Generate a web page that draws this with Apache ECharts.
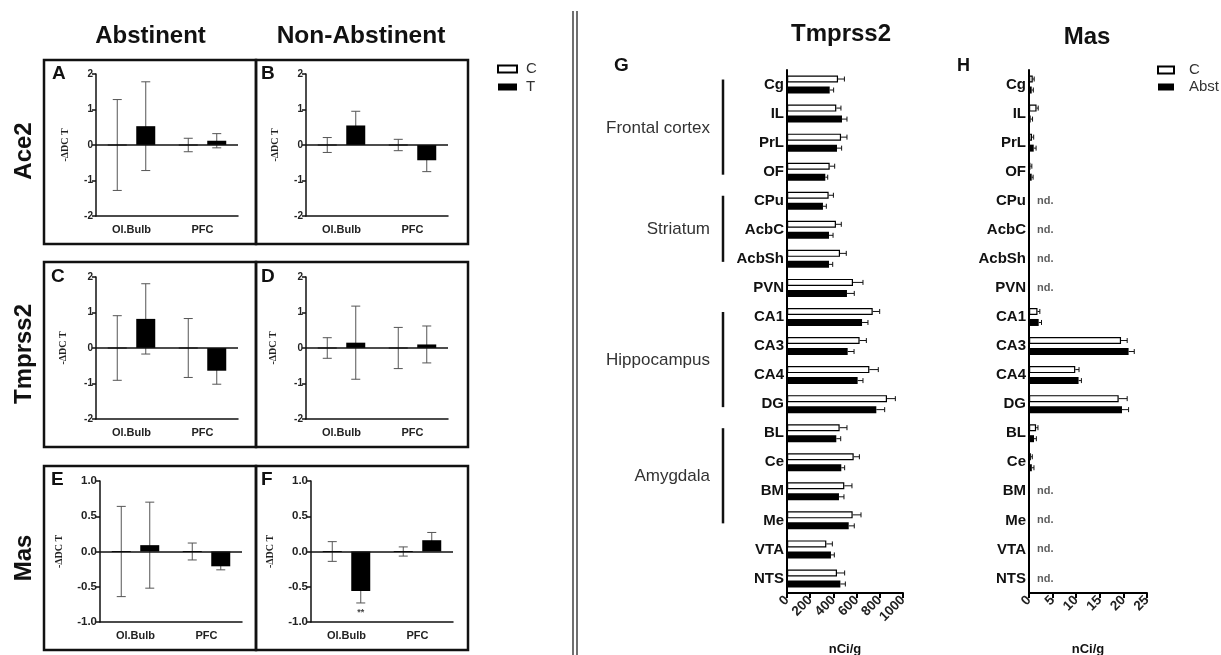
<!DOCTYPE html>
<html><head><meta charset="utf-8">
<script src="https://cdn.jsdelivr.net/npm/echarts@6/dist/echarts.min.js"></script>
<style>html,body{margin:0;padding:0;background:#fff}#c{width:1221px;height:655px}</style>
</head><body><div id="c"></div>
<script>
// ---------- data: panels A-F (-ΔΔCt, mean and SEM) ----------
const regions = ['Ol.Bulb', 'PFC'];
const ace2AbstC = [0, 0],      ace2AbstCErr = [1.28, 0.19];
const ace2AbstT = [0.53, 0.12], ace2AbstTErr = [1.25, 0.20];
const ace2NonC = [0, 0],       ace2NonCErr = [0.21, 0.16];
const ace2NonT = [0.55, -0.43], ace2NonTErr = [0.40, 0.32];
const tmpAbstC = [0, 0],       tmpAbstCErr = [0.91, 0.83];
const tmpAbstT = [0.82, -0.64], tmpAbstTErr = [0.99, 0.38];
const tmpNonC = [0, 0],        tmpNonCErr = [0.29, 0.58];
const tmpNonT = [0.15, 0.10],  tmpNonTErr = [1.03, 0.52];
const masAbstC = [0, 0],       masAbstCErr = [0.64, 0.12];
const masAbstT = [0.09, -0.21], masAbstTErr = [0.61, 0.05];
const masNonC = [0, 0],        masNonCErr = [0.14, 0.065];
const masNonT = [-0.56, 0.16], masNonTErr = [0.17, 0.11];
const masNonSig = ['**', ''];
const dctTicks2 = [-2, -1, 0, 1, 2];
const dctTicks1 = [-1.0, -0.5, 0.0, 0.5, 1.0];

// ---------- data: panels G-H (nCi/g) ----------
const areas = ['Cg','IL','PrL','OF','CPu','AcbC','AcbSh','PVN','CA1','CA3','CA4','DG','BL','Ce','BM','Me','VTA','NTS'];
const tmpC    = [440,425,466,368,359,422,457,569,739,626,710,862,454,575,494,566,339,431];
const tmpCErr = [55,40,51,43,41,46,54,86,60,58,77,72,63,49,66,72,52,66];
const tmpA    = [368,474,431,330,310,362,362,517,647,523,609,770,425,468,448,532,379,460];
const tmpAErr = [34,43,40,21,29,35,32,63,51,55,46,72,38,29,43,48,29,43];
const masC    = [0.8,1.6,0.64,0.3,null,null,null,null,1.8,19.5,9.8,19.0,1.5,0.4,null,null,null,null];
const masCErr = [0.3,0.35,0.35,0.3,null,null,null,null,0.5,1.3,0.8,1.8,0.4,0.3,null,null,null,null];
const masA    = [0.57,0.35,1.0,0.57,null,null,null,null,2.05,21.1,10.5,19.7,1.06,0.6,null,null,null,null];
const masAErr = [0.35,0.4,0.5,0.3,null,null,null,null,0.6,1.2,0.6,1.4,0.5,0.45,null,null,null,null];
const tmpTicks = [0, 200, 400, 600, 800, 1000];
const masTicks = [0, 5, 10, 15, 20, 25];
const groups = [['Frontal cortex','Cg','OF'],['Striatum','CPu','AcbSh'],['Hippocampus','CA1','DG'],['Amygdala','BL','Me']];

const FONT = "'Liberation Sans', Arial, Helvetica, sans-serif";
const chart = echarts.init(document.getElementById('c'), null, {renderer: 'canvas'});

const grid = [], xAxis = [], yAxis = [], series = [];
const VBAR = 19, VOFF = 14.25;

function vErrSeries(idx, vals, errs, off, sig) {
  return {
    type: 'custom', xAxisIndex: idx, yAxisIndex: idx, z: 2, silent: true,
    encode: {x: 0, y: 1},
    data: vals.map((v, i) => [i, v, errs[i]]),
    renderItem: function (params, api) {
      const cat = api.value(0), v = api.value(1), e = api.value(2);
      const t = api.coord([cat, v + e]), b = api.coord([cat, v - e]);
      const x = t[0] + off, cw = 4.5;
      const st = {stroke: '#555', lineWidth: 1};
      const ch = [
        {type: 'line', shape: {x1: x, y1: t[1], x2: x, y2: b[1]}, style: st},
        {type: 'line', shape: {x1: x - cw, y1: t[1], x2: x + cw, y2: t[1]}, style: st},
        {type: 'line', shape: {x1: x - cw, y1: b[1], x2: x + cw, y2: b[1]}, style: st}
      ];
      if (sig && sig[params.dataIndex]) {
        ch.push({type: 'text', style: {text: sig[params.dataIndex], x: x, y: b[1] + 10,
          textAlign: 'center', textVerticalAlign: 'middle', font: 'bold 9px ' + FONT, fill: '#444'}});
      }
      return {type: 'group', children: ch};
    }
  };
}

function vPanel(idx, left, top, width, height, ticks, fmt, lblSize, nameGap, cV, cE, tV, tE, sig) {
  grid.push({left: left, top: top, width: width, height: height, outerBoundsMode: 'none', containLabel: false});
  xAxis.push({gridIndex: idx, type: 'category', data: regions,
    axisLine: {onZero: false, lineStyle: {color: '#111', width: 1.5}},
    axisTick: {alignWithLabel: true, length: 5, lineStyle: {color: '#111', width: 1.5}},
    axisLabel: {fontFamily: FONT, fontSize: 11, fontWeight: 'bold', color: '#222', margin: 8}});
  yAxis.push({gridIndex: idx, type: 'value', min: ticks[0], max: ticks[ticks.length - 1],
    interval: ticks[1] - ticks[0],
    axisLine: {show: true, lineStyle: {color: '#111', width: 1.5}},
    axisTick: {show: true, length: 4, lineStyle: {color: '#111', width: 1.5}},
    splitLine: {show: false},
    axisLabel: {formatter: fmt, fontFamily: FONT, fontSize: lblSize, fontWeight: 'bold', color: '#222', margin: 3},
    name: '-ΔDC T', nameLocation: 'middle', nameGap: nameGap,
    nameTextStyle: {fontFamily: "'Liberation Serif', 'DejaVu Serif', serif", fontWeight: 'bold', fontSize: 10, color: '#222'}});
  series.push({name: 'C', type: 'bar', xAxisIndex: idx, yAxisIndex: idx, data: cV, barWidth: VBAR, barGap: '50%', z: 3,
    itemStyle: {color: '#fff', borderColor: '#000', borderWidth: 1.2},
    markLine: {silent: true, symbol: 'none', label: {show: false},
      lineStyle: {color: '#111', width: 1.5, type: 'solid'}, data: [{yAxis: 0}]}});
  series.push({name: 'T', type: 'bar', xAxisIndex: idx, yAxisIndex: idx, data: tV, barWidth: VBAR, z: 3,
    itemStyle: {color: '#000'}});
  series.push(vErrSeries(idx, cV, cE, -VOFF));
  series.push(vErrSeries(idx, tV, tE, VOFF, sig));
}

const f0 = v => String(v);
const f1 = v => v.toFixed(1);
vPanel(0, 96, 74, 142, 142, dctTicks2, f0, 10, 26, ace2AbstC, ace2AbstCErr, ace2AbstT, ace2AbstTErr);
vPanel(1, 306, 74, 142, 142, dctTicks2, f0, 10, 26, ace2NonC, ace2NonCErr, ace2NonT, ace2NonTErr);
vPanel(2, 96, 277, 142, 142, dctTicks2, f0, 10, 28, tmpAbstC, tmpAbstCErr, tmpAbstT, tmpAbstTErr);
vPanel(3, 306, 277, 142, 142, dctTicks2, f0, 10, 28, tmpNonC, tmpNonCErr, tmpNonT, tmpNonTErr);
vPanel(4, 100, 481, 142, 141, dctTicks1, f1, 11.5, 36, masAbstC, masAbstCErr, masAbstT, masAbstTErr);
vPanel(5, 311, 481, 142, 141, dctTicks1, f1, 11.5, 36, masNonC, masNonCErr, masNonT, masNonTErr, masNonSig);

function hErrSeries(idx, vals, errs, off) {
  return {
    type: 'custom', xAxisIndex: idx, yAxisIndex: idx, z: 4, silent: true,
    encode: {x: 0, y: 1},
    data: vals.map((v, i) => [v, i, errs[i]]).filter(d => d[0] !== null),
    renderItem: function (params, api) {
      const v = api.value(0), cat = api.value(1), e = api.value(2);
      const a = api.coord([v, cat]), b = api.coord([v + e, cat]);
      const y = a[1] + off, ch = 2.5;
      const st = {stroke: '#111', lineWidth: 1};
      return {type: 'group', children: [
        {type: 'line', shape: {x1: a[0], y1: y, x2: b[0], y2: y}, style: st},
        {type: 'line', shape: {x1: b[0], y1: y - ch, x2: b[0], y2: y + ch}, style: st}
      ]};
    }
  };
}

function hPanel(idx, left, width, ticks, cV, cE, aV, aE, withNd) {
  grid.push({left: left, top: 70, width: width, height: 523, outerBoundsMode: 'none', containLabel: false});
  yAxis.push({gridIndex: idx, type: 'category', data: areas, inverse: true,
    axisLine: {lineStyle: {color: '#000', width: 2}},
    axisTick: {length: 5, alignWithLabel: true, lineStyle: {color: '#000', width: 2}},
    axisLabel: {fontFamily: FONT, fontSize: 15, fontWeight: 'bold', color: '#111', margin: 3}});
  xAxis.push({gridIndex: idx, type: 'value', min: ticks[0], max: ticks[ticks.length - 1], interval: ticks[1] - ticks[0],
    axisLine: {show: true, onZero: false, lineStyle: {color: '#000', width: 2}},
    axisTick: {show: true, length: 5, lineStyle: {color: '#000', width: 2}},
    splitLine: {show: false},
    axisLabel: {rotate: 45, formatter: v => String(v), fontFamily: FONT, fontSize: 13.5, fontWeight: 'bold', color: '#222', margin: 5},
    name: 'nCi/g', nameLocation: 'middle', nameGap: 50,
    nameTextStyle: {fontFamily: FONT, fontSize: 13, fontWeight: 'bold', color: '#111'}});
  series.push({name: 'C', type: 'bar', xAxisIndex: idx, yAxisIndex: idx, data: cV, barWidth: 7, barGap: '57%', z: 3,
    itemStyle: {color: '#fff', borderColor: '#000', borderWidth: 1.2}});
  series.push({name: 'Abst', type: 'bar', xAxisIndex: idx, yAxisIndex: idx, data: aV, barWidth: 7, z: 3,
    itemStyle: {color: '#000'}});
  series.push(hErrSeries(idx, cV, cE, -5.5));
  series.push(hErrSeries(idx, aV, aE, 5.5));
  if (withNd) {
    series.push({type: 'scatter', xAxisIndex: idx, yAxisIndex: idx, symbolSize: 0, silent: true,
      data: cV.map((v, i) => [0, i, v]).filter(d => d[2] === null).map(d => [d[0], d[1]]),
      label: {show: true, position: 'right', distance: 8, formatter: 'nd.',
        fontFamily: FONT, fontSize: 11, fontWeight: 'bold', color: '#333'}});
  }
}
hPanel(6, 787, 116, tmpTicks, tmpC, tmpCErr, tmpA, tmpAErr, false);
hPanel(7, 1029, 118, masTicks, masC, masCErr, masA, masAErr, true);

function txt(text, x, y, size, opts) {
  opts = opts || {};
  return {type: 'text', x: x, y: y, rotation: opts.rot || 0, silent: true,
    style: {text: text, font: (opts.weight || 'bold') + ' ' + size + 'px ' + FONT,
      fill: opts.color || '#111', textAlign: opts.align || 'center', textVerticalAlign: 'middle'}};
}
function box(x, y, w, h) {
  return {type: 'rect', silent: true, shape: {x: x, y: y, width: w, height: h},
    style: {fill: 'none', stroke: '#111', lineWidth: 2.5}};
}
const graphic = [
  txt('Abstinent', 150.5, 36, 24), txt('Non-Abstinent', 361, 36, 24.5),
  txt('Ace2', 24, 151, 24, {rot: Math.PI / 2}),
  txt('Tmprss2', 24, 354, 24, {rot: Math.PI / 2}),
  txt('Mas', 24, 558, 24, {rot: Math.PI / 2}),
  box(44, 60, 212, 184), box(256, 60, 212, 184),
  box(44, 262, 212, 185), box(256, 262, 212, 185),
  box(44, 466, 212, 184), box(256, 466, 212, 184),
  txt('A', 52, 74, 19, {align: 'left'}), txt('B', 261, 74, 19, {align: 'left'}),
  txt('C', 51, 277, 19, {align: 'left'}), txt('D', 261, 277, 19, {align: 'left'}),
  txt('E', 51, 480, 19, {align: 'left'}), txt('F', 261, 480, 19, {align: 'left'}),
  {type: 'line', silent: true, shape: {x1: 573, y1: 11, x2: 573, y2: 655}, style: {stroke: '#222', lineWidth: 1.3}},
  {type: 'line', silent: true, shape: {x1: 577, y1: 11, x2: 577, y2: 655}, style: {stroke: '#222', lineWidth: 1.3}},
  txt('Tmprss2', 841, 34, 24), txt('Mas', 1087, 37, 24),
  txt('G', 614, 66, 19, {align: 'left'}), txt('H', 957, 66, 18, {align: 'left'})
];

chart.setOption({
  animation: false,
  backgroundColor: '#fff',
  textStyle: {fontFamily: FONT},
  grid: grid, xAxis: xAxis, yAxis: yAxis, series: series,
  legend: [
    {data: ['C', 'T'], left: 492, top: 56, orient: 'vertical', icon: 'rect', itemWidth: 19, itemHeight: 7, itemGap: 2,
      selectedMode: false, textStyle: {fontFamily: FONT, fontSize: 15, lineHeight: 16, color: '#333', padding: [0, 0, 0, 4]}},
    {data: ['C', 'Abst'], left: 1152, top: 57, orient: 'vertical', icon: 'rect', itemWidth: 16, itemHeight: 7, itemGap: 1,
      selectedMode: false, textStyle: {fontFamily: FONT, fontSize: 15, lineHeight: 16, color: '#333', padding: [0, 0, 0, 10]}}
  ],
  graphic: graphic
});

// group brackets in panel G, positioned from the category axis
const extra = [];
groups.forEach(g => {
  const y1 = chart.convertToPixel({yAxisIndex: 6}, g[1]);
  const y2 = chart.convertToPixel({yAxisIndex: 6}, g[2]);
  extra.push({type: 'line', silent: true, shape: {x1: 723, y1: y1 - 5, x2: 723, y2: y2 + 3},
    style: {stroke: '#111', lineWidth: 2.5}});
  extra.push(txt(g[0], 710, (y1 + y2) / 2, 17, {align: 'right', weight: 'normal', color: '#333'}));
});
chart.setOption({graphic: graphic.concat(extra)});
</script>
</body></html>
